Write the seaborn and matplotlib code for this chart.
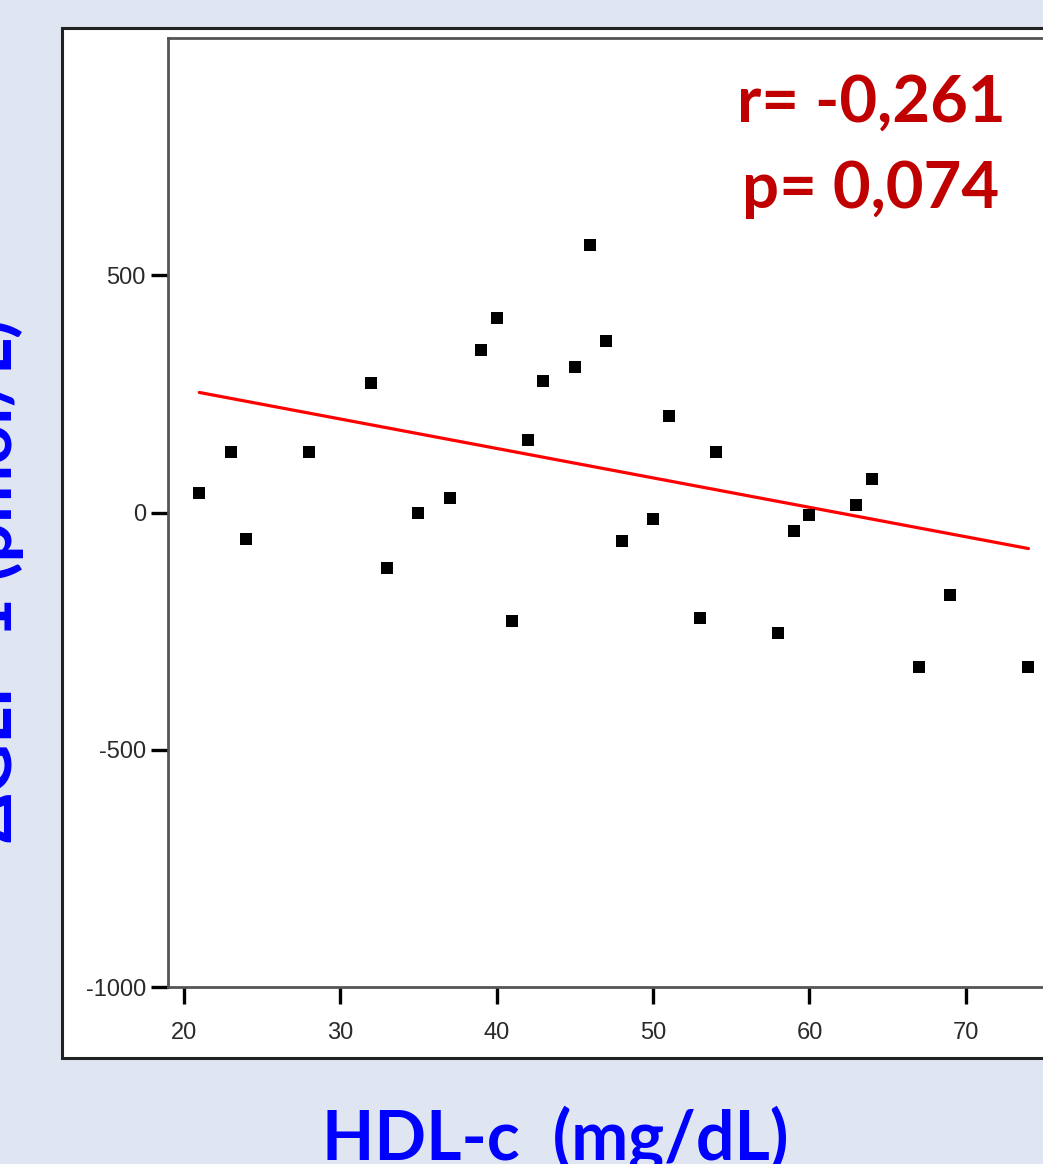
import numpy as np
import pandas as pd
import seaborn as sns
import matplotlib.pyplot as plt
from matplotlib.patches import Rectangle

# Data
hdl = [21, 23, 24, 28, 32, 33, 35, 37, 39, 40, 41, 42, 43, 45, 46, 47, 48,
       50, 51, 53, 54, 58, 59, 60, 63, 64, 67, 69, 74]
glp = [42, 127, -55, 127, 272, -118, 0, 30, 342, 409, -228, 152, 278, 306,
       563, 361, -61, -13, 203, -222, 127, -255, -40, -6, 15, 70, -325, -173, -325]
fit_x = [21, 74]
fit_y = [253, -76]
x_ticks = [20, 30, 40, 50, 60, 70]
y_ticks = [-1000, -500, 0, 500]

df = pd.DataFrame({'HDL': hdl, 'GLP': glp})

sns.set_style('white')
plt.rcParams['font.family'] = ['Liberation Sans', 'DejaVu Sans']
plt.rcParams['axes.unicode_minus'] = False

bg = '#dfe6f2'
fig = plt.figure(figsize=(10.43, 11.64), dpi=100)
fig.patch.set_facecolor(bg)

# white panel with black frame (runs off the right edge)
panel = Rectangle((62 / 1043, 1 - 1058 / 1164), 1.2, (1058 - 28) / 1164,
                  transform=fig.transFigure, facecolor='white',
                  edgecolor='#222222', linewidth=2.2, zorder=-5)
fig.patches.append(panel)

ax = fig.add_axes([168 / 1043, 1 - 987 / 1164, 0.915, (987 - 38) / 1164])
ax.set_facecolor('white')

sns.scatterplot(data=df, x='HDL', y='GLP', ax=ax, marker='s', s=85,
                color='black', linewidth=0, zorder=3)
sns.lineplot(x=fit_x, y=fit_y, ax=ax, color='#ff0000', linewidth=2.3, zorder=2)

ax.set_xlim(19, 80)
ax.set_ylim(-1000, 1000)
ax.set_xticks(x_ticks)
ax.set_yticks(y_ticks)
ax.tick_params(axis='both', direction='out', length=12, width=2.4,
               color='black', labelsize=17, labelcolor='#2a2a2a',
               bottom=True, left=True)
ax.tick_params(axis='y', pad=4)
ax.tick_params(axis='x', pad=13)
for side in ['left', 'bottom', 'top']:
    ax.spines[side].set_color('#555555')
    ax.spines[side].set_linewidth(2)
ax.spines['right'].set_visible(False)
ax.set_xlabel('')
ax.set_ylabel('')

# red statistics
fig.text(871 / 1043, 1 - 122 / 1164, 'r= -0,261', color='#c00000',
         fontsize=47, fontweight='bold', family=['Lato', 'DejaVu Sans'],
         ha='center', va='baseline')
fig.text(871 / 1043, 1 - 208 / 1164, 'p= 0,074', color='#c00000',
         fontsize=47, fontweight='bold', family=['Lato', 'DejaVu Sans'],
         ha='center', va='baseline')

# axis titles in blue (cut by the picture edges, as in the source image)
fig.text(555 / 1043, 1 - 1160 / 1164, 'HDL-c  (mg/dL)', color='#0000ff',
         fontsize=49, fontweight='bold', family=['Lato', 'DejaVu Sans'],
         ha='center', va='baseline')
fig.text(12 / 1043, 1 - 580 / 1164, 'ΔGLP-1 (pmol/L)', color='#0000ff',
         fontsize=50, fontweight='bold', family=['Lato', 'DejaVu Sans'],
         ha='center', va='baseline', rotation=90, rotation_mode='anchor')

fig.savefig('out.png', dpi=100, facecolor=bg)
